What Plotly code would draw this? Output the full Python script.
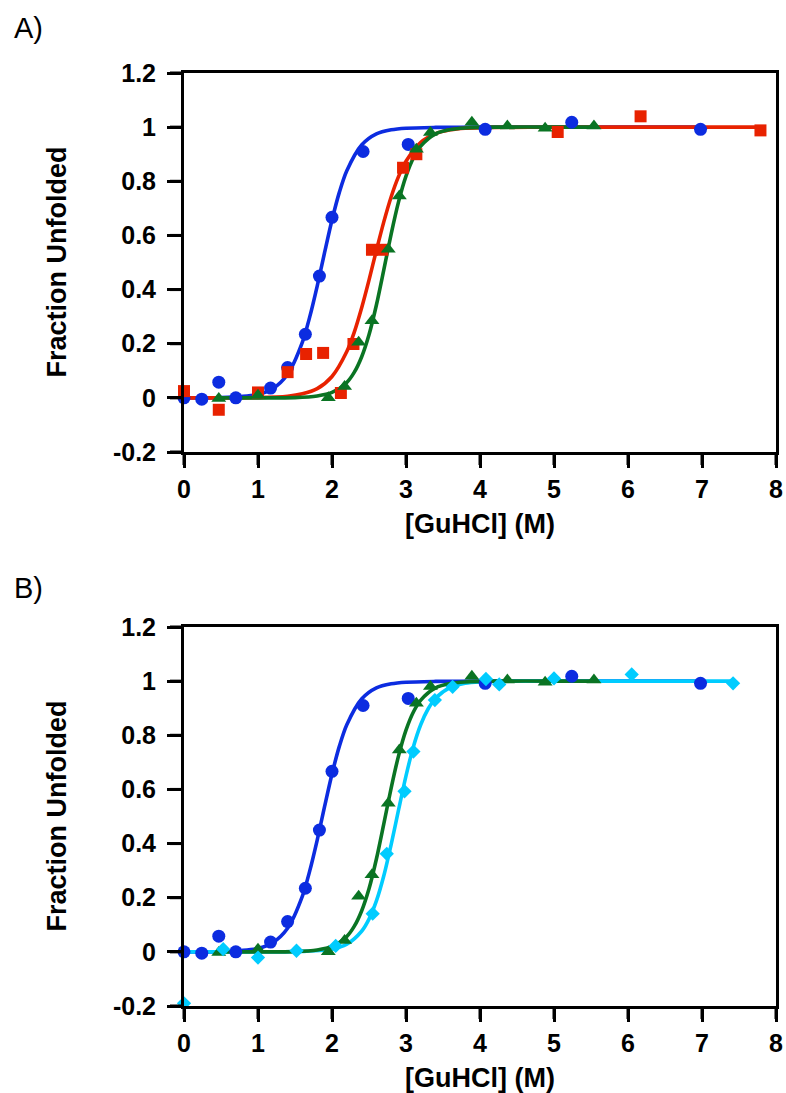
import plotly.graph_objects as go

# ---------------- data ----------------
# Panel A / B shared: blue circles
blue_x = [0.0, 0.24, 0.47, 0.70, 1.17, 1.40, 1.64, 1.83, 2.00, 2.42, 3.03, 4.07, 5.24, 6.98]
blue_y = [0.0, -0.005, 0.058, 0.0, 0.036, 0.112, 0.235, 0.450, 0.667, 0.910, 0.936, 0.992, 1.018, 0.992]

# Panel A: red squares
red_x = [0.0, 0.47, 1.00, 1.40, 1.65, 1.88, 2.12, 2.29, 2.54, 2.68, 2.96, 3.14, 5.05, 6.17, 7.79]
red_y = [0.025, -0.044, 0.020, 0.095, 0.162, 0.166, 0.018, 0.199, 0.547, 0.547, 0.850, 0.900, 0.982, 1.040, 0.988]

# Panel A / B shared: green triangles
green_x = [0.47, 1.00, 1.95, 2.17, 2.36, 2.54, 2.76, 2.91, 3.14, 3.33, 3.89, 4.37, 4.88, 5.54]
green_y = [-0.002, 0.010, 0.000, 0.042, 0.205, 0.285, 0.549, 0.746, 0.918, 0.980, 1.018, 1.004, 0.996, 1.004]

# Panel B: cyan diamonds
cyan_x = [0.0, 0.53, 1.00, 1.52, 2.05, 2.55, 2.74, 2.98, 3.10, 3.39, 3.63, 4.08, 4.26, 5.00, 6.05, 7.42]
cyan_y = [-0.19, 0.010, -0.021, 0.004, 0.022, 0.141, 0.362, 0.593, 0.740, 0.930, 0.979, 1.008, 0.988, 1.010, 1.025, 0.992]

# Fitted curves
blue_fit_x = [0.0, 0.5, 1.0, 1.2, 1.4, 1.6, 1.7, 1.8, 1.9, 2.0, 2.1, 2.2, 2.4, 2.6, 2.8, 3.0, 3.4, 4.0, 5.0, 6.98]
blue_fit_y = [0.0, 0.001, 0.013, 0.034, 0.087, 0.206, 0.300, 0.413, 0.537, 0.657, 0.760, 0.839, 0.934, 0.975, 0.990, 0.996, 0.999, 1.0, 1.0, 1.0]

red_fit_x = [0.0, 1.0, 1.4, 1.6, 1.8, 2.0, 2.2, 2.3, 2.4, 2.5, 2.6, 2.7, 2.8, 2.9, 3.0, 3.2, 3.4, 3.6, 3.8, 4.2, 5.0, 6.5, 7.79]
red_fit_y = [0.0, 0.001, 0.006, 0.015, 0.034, 0.079, 0.171, 0.242, 0.332, 0.435, 0.545, 0.650, 0.743, 0.818, 0.874, 0.944, 0.976, 0.990, 0.996, 0.999, 1.0, 1.0, 1.0]

green_fit_x = [0.47, 1.0, 1.5, 1.8, 2.0, 2.2, 2.3, 2.4, 2.5, 2.6, 2.7, 2.8, 2.9, 3.0, 3.1, 3.2, 3.4, 3.6, 3.8, 4.2, 5.0, 5.54]
green_fit_y = [0.0, 0.0, 0.001, 0.007, 0.020, 0.057, 0.094, 0.151, 0.233, 0.343, 0.473, 0.606, 0.725, 0.819, 0.886, 0.930, 0.975, 0.991, 0.997, 1.0, 1.0, 1.0]

cyan_fit_x = [0.0, 1.0, 1.5, 2.0, 2.2, 2.4, 2.5, 2.6, 2.7, 2.8, 2.9, 3.0, 3.1, 3.2, 3.3, 3.4, 3.6, 3.8, 4.0, 4.5, 5.5, 7.42]
cyan_fit_y = [0.0, 0.0, 0.001, 0.010, 0.028, 0.076, 0.121, 0.188, 0.281, 0.397, 0.525, 0.650, 0.758, 0.840, 0.898, 0.937, 0.977, 0.992, 0.997, 1.0, 1.0, 1.0]

x_ticks = [0, 1, 2, 3, 4, 5, 6, 7, 8]
y_ticks = [-0.2, 0, 0.2, 0.4, 0.6, 0.8, 1.0, 1.2]
y_tick_text = ["-0.2", "0", "0.2", "0.4", "0.6", "0.8", "1", "1.2"]
x_title = "[GuHCl] (M)"
y_title = "Fraction Unfolded"
panel_labels = ["A)", "B)"]

# ---------------- styles ----------------
BLUE = "#0c2ce0"
RED = "#e82200"
GREEN = "#0a7423"
CYAN = "#00ccff"
FONT = "Liberation Sans, Arial, Helvetica, sans-serif"
LW = 3.6

X_RANGE = [0, 8]
Y_RANGE = [-0.2, 1.2]

fig = go.Figure()


def add_line(x, y, color, xa, ya):
    fig.add_trace(go.Scatter(x=x, y=y, mode="lines", line=dict(color=color, width=LW, shape="spline", smoothing=0.8),
                             xaxis=xa, yaxis=ya, showlegend=False, hoverinfo="skip", cliponaxis=False))


def add_pts(x, y, color, symbol, size, xa, ya):
    fig.add_trace(go.Scatter(x=x, y=y, mode="markers",
                             marker=dict(color=color, symbol=symbol, size=size, line=dict(width=0)),
                             xaxis=xa, yaxis=ya, showlegend=False, cliponaxis=False))


# Panel A
add_line(blue_fit_x, blue_fit_y, BLUE, "x", "y")
add_line(red_fit_x, red_fit_y, RED, "x", "y")
add_line(green_fit_x, green_fit_y, GREEN, "x", "y")
add_pts(blue_x, blue_y, BLUE, "circle", 13, "x", "y")
add_pts(red_x, red_y, RED, "square", 12, "x", "y")
add_pts(green_x, green_y, GREEN, "triangle-up", 13, "x", "y")

# Panel B
add_line(blue_fit_x, blue_fit_y, BLUE, "x2", "y2")
add_line(cyan_fit_x, cyan_fit_y, CYAN, "x2", "y2")
add_line(green_fit_x, green_fit_y, GREEN, "x2", "y2")
add_pts(blue_x, blue_y, BLUE, "circle", 13, "x2", "y2")
add_pts(green_x, green_y, GREEN, "triangle-up", 13, "x2", "y2")
add_pts(cyan_x, cyan_y, CYAN, "diamond", 11, "x2", "y2")

W, H = 786, 1093
px_left, px_right = 184, 776
A_top, A_bot = 73, 452
B_top, B_bot = 627, 1006
XTL, YTL = 13, 14  # tick lengths (px)

xdom = [px_left / W, px_right / W]
ydomA = [1 - A_bot / H, 1 - A_top / H]
ydomB = [1 - B_bot / H, 1 - B_top / H]

tickfont = dict(family=FONT, size=25, color="black", weight="bold")

xaxis_common = dict(range=X_RANGE, tickmode="array", tickvals=x_ticks, ticks="outside", ticklen=XTL, tickwidth=3,
                    tickcolor="#000000", showline=True, linewidth=3, linecolor="#000000", mirror=True,
                    showgrid=False, zeroline=False, showticklabels=True, tickfont=tickfont, domain=xdom,
                    automargin=False)
yaxis_common = dict(range=Y_RANGE, tickmode="array", tickvals=y_ticks, ticktext=y_tick_text, ticks="outside",
                    ticklen=YTL, tickwidth=3, tickcolor="#000000", showline=True, linewidth=3, linecolor="#000000",
                    mirror=True, showgrid=False, zeroline=False, showticklabels=True, tickfont=tickfont,
                    automargin=False, ticklabelstandoff=6)

fig.update_layout(
    template="none",
    width=W, height=H,
    margin=dict(l=0, r=0, t=0, b=0, pad=0),
    paper_bgcolor="white", plot_bgcolor="white",
    xaxis=dict(**xaxis_common, anchor="y"),
    yaxis=dict(**yaxis_common, domain=ydomA, anchor="x"),
    xaxis2=dict(**xaxis_common, anchor="y2"),
    yaxis2=dict(**yaxis_common, domain=ydomB, anchor="x2"),
)

# tick marks (unclipped, in axis-domain coordinates with pixel lengths)
shapes = []
for xr, yr in [("x domain", "y domain"), ("x2 domain", "y2 domain")]:
    for yv in y_ticks:
        f = (yv - Y_RANGE[0]) / (Y_RANGE[1] - Y_RANGE[0])
        shapes.append(dict(type="line", xref=xr, yref=yr, xsizemode="pixel", xanchor=0, x0=-YTL, x1=0,
                           y0=f, y1=f, line=dict(color="black", width=3), layer="above"))
    for xv in x_ticks:
        f = (xv - X_RANGE[0]) / (X_RANGE[1] - X_RANGE[0])
        shapes.append(dict(type="line", xref=xr, yref=yr, ysizemode="pixel", yanchor=0, y0=-XTL, y1=0,
                           x0=f, x1=f, line=dict(color="black", width=3), layer="above"))
fig.update_layout(shapes=shapes)

title_font = dict(family=FONT, size=27, color="black", weight="bold")
cx = (px_left + px_right) / 2
annotations = []
for top, bot, lab, ly in [(A_top, A_bot, panel_labels[0], 28), (B_top, B_bot, panel_labels[1], 588)]:
    annotations.append(dict(text=x_title, x=cx / W, y=1 - (bot + 72) / H, xref="paper", yref="paper",
                            showarrow=False, font=title_font, xanchor="center", yanchor="middle"))
    annotations.append(dict(text=y_title, x=56 / W, y=1 - ((top + bot) / 2) / H, xref="paper", yref="paper",
                            showarrow=False, font=title_font, textangle=-90, xanchor="center", yanchor="middle"))
    annotations.append(dict(text=lab, x=12 / W, y=1 - ly / H, xref="paper", yref="paper", showarrow=False,
                            font=dict(family=FONT, size=29, color="black"), xanchor="left", yanchor="middle"))
fig.update_layout(annotations=annotations)

fig.write_html("out.html")
